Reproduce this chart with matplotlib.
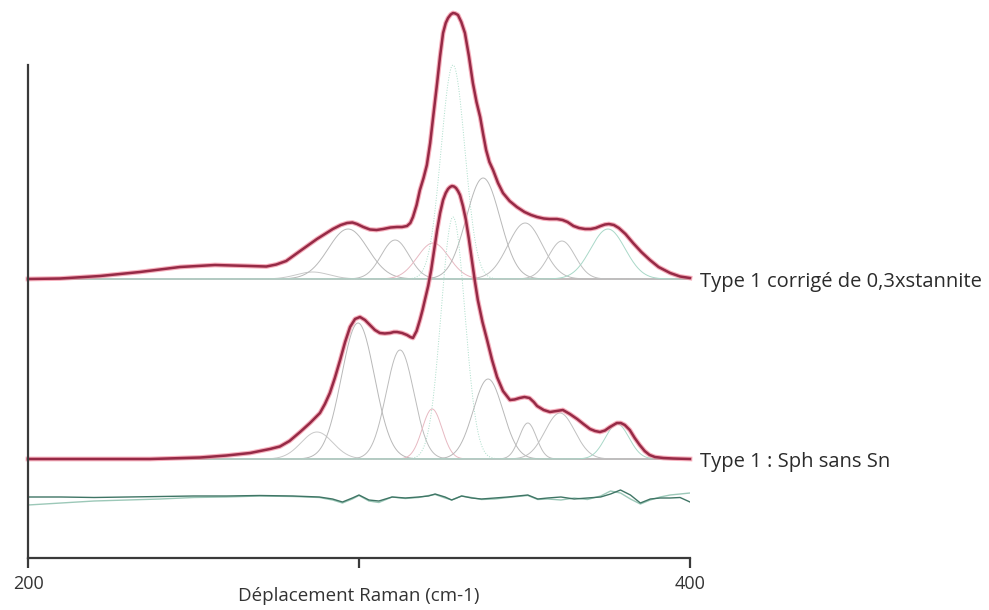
import numpy as np
from matplotlib import pyplot as plt

plt.rcParams['font.family'] = ['Open Sans', 'DejaVu Sans']

# spectre "Type 1 corrigé de 0,3xstannite" (décalage Raman, intensité)
haut_x = [200.0, 209.7, 221.8, 233.8, 245.9, 256.5, 267.1, 272.0, 275.0, 278.0,
          282.2, 287.3, 292.1, 294.5, 296.4, 298.0, 299.4, 301.3, 303.3, 305.3,
          307.3, 309.5, 311.5, 313.0, 314.5, 315.5, 316.3, 317.4, 318.4, 319.5,
          320.5, 321.5, 322.4, 323.6, 324.5, 325.4, 326.2, 326.9, 327.7, 328.4,
          329.1, 329.9, 330.9, 332.0, 333.2, 334.4, 335.5, 336.6, 337.5, 338.4,
          339.4, 340.5, 342.0, 343.5, 345.5, 347.7, 350.0, 352.0, 353.8, 355.8,
          357.5, 359.8, 361.5, 363.0, 364.8, 366.5, 368.3, 370.0, 371.5, 373.0,
          374.3, 375.5, 377.0, 378.5, 380.5, 382.8, 385.3, 387.9, 390.5, 394.0,
          397.0, 400.0]
haut_y = [279, 279.5, 282, 286, 291, 293, 292, 291.5, 293.5, 297,
          307, 319, 329, 333, 335, 335.5, 334, 331, 328.5, 328,
          329, 330.5, 331, 331, 332, 335, 341, 353, 368, 380,
          393, 415, 441, 475, 502, 525, 535, 540, 543.5, 545,
          544.5, 543, 536, 525, 502, 475, 456, 441, 424, 408,
          396, 388, 375, 365, 357, 351, 346, 343, 341, 339.5,
          339, 339, 338, 336, 332, 330, 329, 329, 330, 332,
          333.5, 334, 333, 330, 324, 315, 306, 298, 291, 285,
          281.5, 280]

# spectre "Type 1 : Sph sans Sn"
bas_x = [200.0, 236.9, 252.0, 260.0, 267.1, 273.1, 276.1, 279.0, 282.2, 285.2,
         288.2, 289.7, 291.2, 292.7, 294.3, 295.8, 297.3, 298.8, 300.3, 301.8,
         303.3, 304.8, 306.3, 307.8, 309.4, 310.5, 311.5, 313.0, 314.5, 315.5,
         316.3, 317.4, 318.4, 319.2, 319.9, 320.9, 321.8, 322.7, 323.6, 324.5,
         325.4, 326.2, 326.9, 327.5, 328.1, 328.7, 329.3, 329.9, 330.5, 331.4,
         332.3, 333.2, 334.1, 335.0, 335.9, 337.3, 338.7, 340.2, 341.7, 343.5,
         345.6, 347.0, 348.5, 350.0, 351.5, 352.8, 353.8, 355.8, 357.7, 359.7,
         361.6, 363.7, 365.9, 367.8, 369.8, 371.3, 372.8, 374.3, 375.8, 377.9,
         379.1, 380.3, 381.8, 383.3, 384.8, 386.3, 387.8, 389.4, 392.0, 394.9,
         400.0]
bas_y = [99, 99, 100.5, 102.5, 105, 109, 111.5, 117, 126, 135,
         145, 154, 165, 180, 198, 216, 231, 239, 241, 238,
         233, 228, 225, 224.5, 225, 226, 226, 225, 223, 221,
         220, 227, 238, 248, 258, 272, 288, 308, 328, 345,
         358, 365, 369, 371, 372, 371.5, 370, 367, 363, 352,
         338, 319, 298, 277, 258, 236, 218, 198, 181, 167,
         158, 158.5, 160, 161, 160, 156, 152, 148, 146, 147,
         148, 144, 139, 134, 129, 127, 126, 127.5, 131, 135,
         135, 133, 128, 120, 113, 107, 103, 101, 100, 99.5,
         99]

# composantes gaussiennes (centre, hauteur, largeur) en cm-1
haut_centre = [286.0, 296.7, 310.9, 322.4, 328.4, 337.5, 350.2, 361.3, 375.2]
haut_hauteur = [7, 50, 39, 36, 214, 101, 56, 38, 50]
haut_largeur = [5.0, 6.0, 4.2, 4.8, 3.6, 5.1, 5.2, 4.0, 5.2]
bas_centre = [287.3, 299.7, 312.4, 322.1, 328.4, 339.0, 351.0, 360.7, 378.0]
bas_hauteur = [27, 136, 109, 50, 242, 80, 36, 46, 35]
bas_largeur = [4.8, 5.0, 4.2, 3.0, 3.6, 4.5, 2.6, 4.5, 3.6]
haut_base = 279
bas_base = 99

# résidus
res_x = [200, 210, 220, 230, 240, 250, 260, 270, 280, 288, 292, 295, 298, 300,
         303, 306, 310, 314, 318, 321, 323, 326, 328, 331, 334, 337, 341, 345,
         348, 351, 354, 357, 361, 365, 369, 373, 376, 379, 382, 385, 388, 391,
         394, 397, 400]
res_a = [61, 61, 60.5, 61, 61.5, 62, 62, 62.5, 62, 61, 59, 56, 60, 63,
         58, 57, 61, 60, 61, 62, 64, 61, 58, 62, 60, 59, 60, 61,
         62, 63, 59, 60, 61, 59, 60, 61, 64, 68, 63, 55, 59, 60,
         60, 60.5, 56]
res_b = [53, 55, 57, 58, 59, 60.5, 61, 62, 61.5, 60.5, 58, 55, 59, 62.5,
         57, 55.5, 61, 59.5, 60.5, 62.5, 63.5, 60, 58, 62, 60.5, 58.5, 59, 60.5,
         61.5, 62.5, 58.5, 59, 58, 60, 58.5, 62, 67, 65, 59, 54, 58, 61,
         63, 64, 65]

fig = plt.figure(figsize=(9.89, 6.10), dpi=100)
ax = fig.add_axes([28 / 989, 52 / 610, 662 / 989, 553 / 610])

x = np.linspace(200, 400, 1001)
gris = ['#c8c8c8', '#b8b8b8', '#bcbcbc', '#e7b9c2', '#a9dcc8', '#b8b8b8', '#bdbdbd', '#c0c0c0', '#a9d8c8']
for base, centres, hauteurs, largeurs in [(haut_base, haut_centre, haut_hauteur, haut_largeur),
                                          (bas_base, bas_centre, bas_hauteur, bas_largeur)]:
    for i, (c, h, s) in enumerate(zip(centres, hauteurs, largeurs)):
        ls = ':' if i == 4 else '-'
        ax.plot(x, base + h * np.exp(-(x - c) ** 2 / (2 * s ** 2)), color=gris[i], lw=0.7, ls=ls)

for xs, ys in [(haut_x, haut_y), (bas_x, bas_y)]:
    ax.plot(xs, ys, color='#f07a90', lw=3.4, alpha=0.6, solid_joinstyle='round', clip_on=False)
    ax.plot(xs, ys, color='#962a46', lw=1.8, solid_joinstyle='round', clip_on=False)

ax.plot(res_x, res_b, color='#9cc8b8', lw=1.0)
ax.plot(res_x, res_a, color='#3f7565', lw=1.0)

ax.text(403, haut_base - 3, 'Type 1 corrigé de 0,3xstannite', fontsize=14.5, color='#2b2b2b', va='center')
ax.text(403, bas_base - 3, 'Type 1 : Sph sans Sn', fontsize=14.5, color='#2b2b2b', va='center')

ax.set_xlim(200, 400)
ax.set_ylim(0, 553)
ax.spines['top'].set_visible(False)
ax.spines['right'].set_visible(False)
ax.spines['left'].set_bounds(0, 493)
for s in ['left', 'bottom']:
    ax.spines[s].set_linewidth(1.6)
    ax.spines[s].set_color('#3a3a3a')
ax.set_yticks([])
ax.set_xticks([200, 300, 400])
ax.set_xticklabels(['200', '', '400'])
ax.tick_params(axis='x', direction='out', length=7, width=1.6, color='#3a3a3a',
               labelsize=13, labelcolor='#333333', pad=5)
ax.set_xlabel('Déplacement Raman (cm-1)', fontsize=13.5, color='#333333', labelpad=-4)

plt.savefig('out.png', dpi=100)
